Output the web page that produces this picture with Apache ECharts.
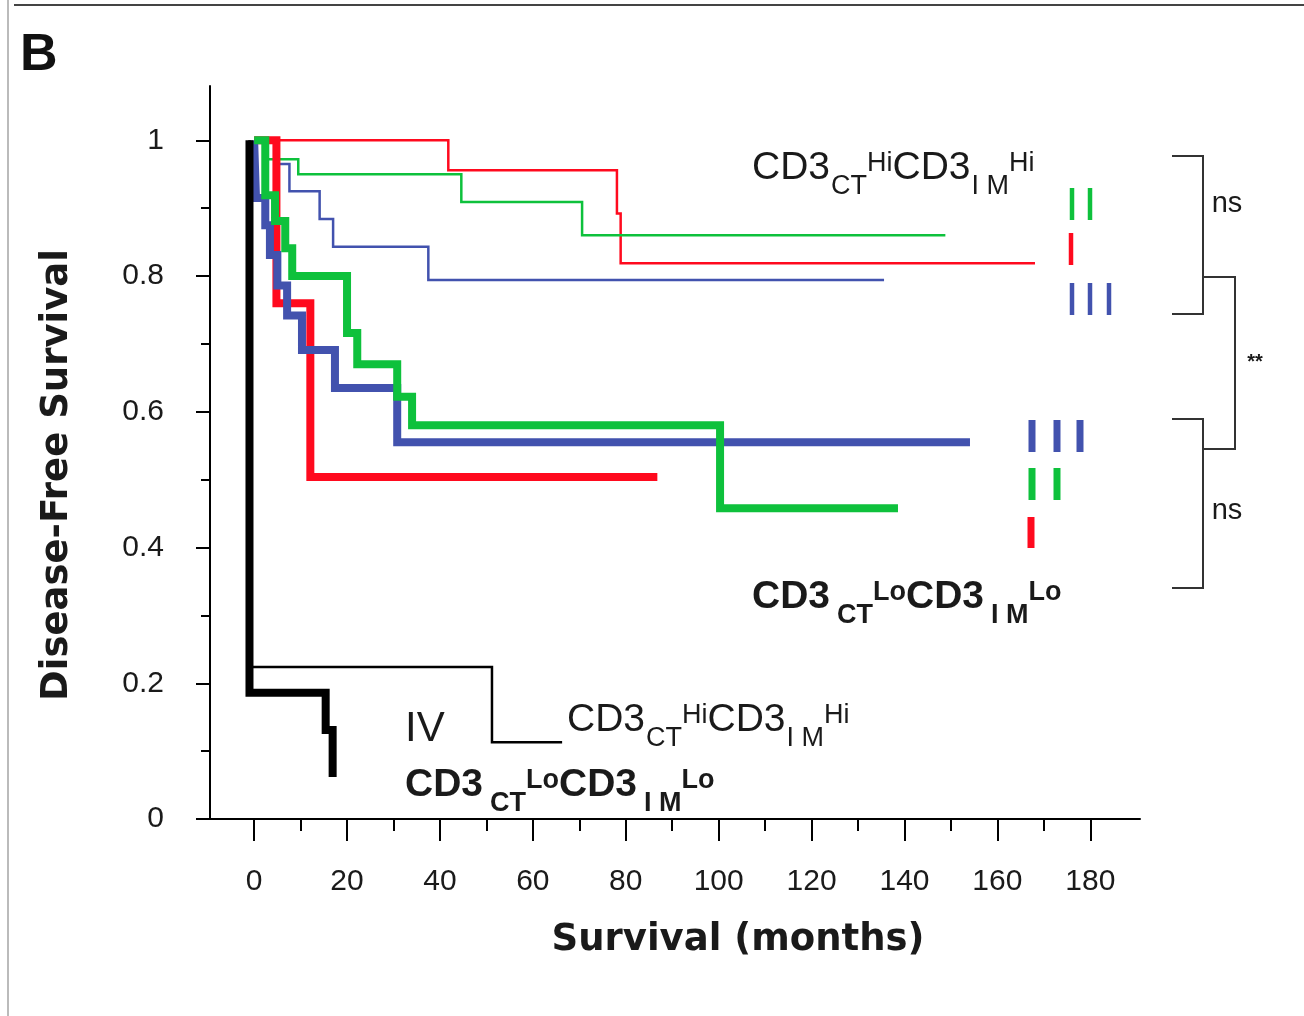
<!DOCTYPE html>
<html>
<head>
<meta charset="utf-8">
<title>Disease-Free Survival</title>
<script src="https://cdn.jsdelivr.net/npm/echarts@6/dist/echarts.min.js"></script>
<style>
  html, body { margin: 0; padding: 0; background: #fff; }
  #chart { width: 1304px; height: 1016px; }
</style>
</head>
<body>
<div id="chart"></div>
<script>
// Axes
const xMajorTicks = [0, 20, 40, 60, 80, 100, 120, 140, 160, 180];
const xMinorTicks = [10, 30, 50, 70, 90, 110, 130, 150, 170];
const yMajorTicks = [0, 0.2, 0.4, 0.6, 0.8, 1];
const yMinorTicks = [0.1, 0.3, 0.5, 0.7, 0.9];

// Stades I-III, CD3 Hi (traits fins) : temps (mois) et survie
const redHiT = [0, 41.8, 78.1, 78.9, 168.1];
const redHiS = [1, 0.956, 0.892, 0.819, 0.819];
const greenHiT = [0, 2.4, 9.5, 44.6, 70.6, 148.8];
const greenHiS = [1, 0.972, 0.95, 0.909, 0.86, 0.86];
const blueHiT = [0, 4.8, 7.6, 14.1, 17.0, 37.5, 135.6];
const blueHiS = [1, 0.965, 0.925, 0.884, 0.843, 0.794, 0.794];

// Stades I-III, CD3 Lo (traits épais)
const redLoT = [0, 4.8, 12.1, 86.8];
const redLoS = [1, 0.76, 0.504, 0.504];
const blueLoT = [0, 0.4, 2.4, 3.4, 5.0, 7.1, 10.3, 17.4, 30.8, 154.1];
const blueLoS = [1, 0.915, 0.875, 0.831, 0.786, 0.742, 0.691, 0.635, 0.555, 0.555];
const greenLoT = [0, 2.4, 4.5, 6.7, 8.2, 20.0, 22.2, 30.8, 34.0, 100.3, 138.6];
const greenLoS = [1, 0.919, 0.881, 0.841, 0.8, 0.716, 0.67, 0.622, 0.58, 0.458, 0.458];

// Stade IV
const blackHiT = [-1, -1, 51.2, 66.3];
const blackHiS = [1, 0.224, 0.113, 0.113];
const blackLoT = [-1, -1, 15.4, 16.9];
const blackLoS = [1, 0.186, 0.131, 0.062];

const FONT = "'Liberation Sans', Arial, Helvetica, sans-serif";
const TEXT = "#1a1a1a";

function kmPoints(times, surv) {
  return times.map((t, i) => [t, surv[i]]);
}

function curve(name, times, surv, color, width, z) {
  return {
    name: name,
    type: "line",
    step: "end",
    data: kmPoints(times, surv),
    symbol: "none",
    silent: true,
    animation: false,
    z: z,
    lineStyle: { color: color, width: width, join: "miter", cap: "butt" },
  };
}

// étiquette CD3 avec indices / exposants
function cd3Label(left, top, bold, sup1, sup2) {
  const w = bold ? "bold" : "normal";
  return {
    type: "text",
    left: left,
    top: top,
    z: 10,
    style: {
      text:
        "{m|CD3}{s|CT}{p|" + sup1 + "}{m|CD3}{s|I M}{p|" + sup2 + "}",
      fill: TEXT,
      rich: {
        m: { fontFamily: FONT, fontWeight: w, fontSize: 39, lineHeight: 64, fill: TEXT },
        s: {
          fontFamily: FONT, fontWeight: w, fontSize: 27, lineHeight: 28,
          verticalAlign: "bottom", fill: TEXT, padding: [0, 0, 0, bold ? 7 : 1],
        },
        p: {
          fontFamily: FONT, fontWeight: w, fontSize: 27,
          verticalAlign: "top", fill: TEXT, padding: [14, 0, 0, 0],
        },
      },
    },
  };
}

function bar(x, y1, y2, color, w) {
  return {
    type: "rect",
    z: 10,
    shape: { x: x - w / 2, y: y1, width: w, height: y2 - y1 },
    style: { fill: color },
  };
}

function path(points) {
  return {
    type: "polyline",
    z: 10,
    shape: { points: points },
    style: { stroke: "#333", lineWidth: 2, fill: null },
  };
}

function txt(x, y, text, size, weight, family) {
  return {
    type: "text",
    x: x,
    y: y,
    z: 10,
    style: {
      text: text,
      fill: TEXT,
      align: "center",
      verticalAlign: "middle",
      font: weight + " " + size + "px " + (family || FONT),
    },
  };
}

const RED = "#ff0a1e";
const GREEN = "#0ec13c";
const BLUE = "#4252ae";

const chart = echarts.init(document.getElementById("chart"));

const tickStyle = { color: "#000", width: 2 };

const option = {
  backgroundColor: "#fff",
  animation: false,
  grid: { left: 210, top: 86, width: 930, height: 733, outerBoundsMode: "none" },
  xAxis: [
    {
      type: "value",
      min: -9.5,
      max: 190.7,
      position: "bottom",
      axisLine: { show: true, onZero: false, lineStyle: { color: "#000", width: 2 } },
      axisTick: { show: true, customValues: xMajorTicks, length: 22, lineStyle: tickStyle },
      axisLabel: {
        customValues: xMajorTicks,
        fontFamily: FONT,
        fontSize: 30,
        color: TEXT,
        margin: 48,
      },
      splitLine: { show: false },
    },
    {
      type: "value",
      min: -9.5,
      max: 190.7,
      position: "bottom",
      axisLine: { show: false, onZero: false },
      axisTick: { show: true, customValues: xMinorTicks, length: 12, lineStyle: tickStyle },
      axisLabel: { show: false },
      splitLine: { show: false },
    },
  ],
  yAxis: [
    {
      type: "value",
      min: 0,
      max: 1.08,
      position: "left",
      axisLine: { show: true, onZero: false, lineStyle: { color: "#000", width: 2 } },
      axisTick: { show: true, customValues: yMajorTicks, length: 14, lineStyle: tickStyle },
      axisLabel: {
        customValues: yMajorTicks,
        fontFamily: FONT,
        fontSize: 30,
        color: TEXT,
        margin: 46,
      },
      splitLine: { show: false },
    },
    {
      type: "value",
      min: 0,
      max: 1.08,
      position: "left",
      axisLine: { show: false, onZero: false },
      axisTick: { show: true, customValues: yMinorTicks, length: 9, lineStyle: tickStyle },
      axisLabel: { show: false },
      splitLine: { show: false },
    },
  ],
  series: [
    curve("I Hi", redHiT, redHiS, RED, 2.5, 3),
    curve("II Hi", greenHiT, greenHiS, GREEN, 2.5, 3),
    curve("III Hi", blueHiT, blueHiS, BLUE, 2.5, 3),
    curve("I Lo", redLoT, redLoS, RED, 8, 4),
    curve("III Lo", blueLoT, blueLoS, BLUE, 8, 5),
    curve("II Lo", greenLoT, greenLoS, GREEN, 8, 6),
    curve("IV Hi", blackHiT, blackHiS, "#000", 2.5, 7),
    curve("IV Lo", blackLoT, blackLoS, "#000", 8, 8),
  ],
  graphic: [
    // cadre de la figure
    { type: "line", shape: { x1: 14, y1: 5, x2: 1304, y2: 5 }, style: { stroke: "#444", lineWidth: 2 } },
    { type: "line", shape: { x1: 8, y1: 0, x2: 8, y2: 1016 }, style: { stroke: "#bbb", lineWidth: 2 } },
    { type: "text", left: 20, top: 30, style: { text: "B", fill: "#111", font: "bold 52px " + FONT } },

    // titres des axes
    {
      type: "text",
      x: 57,
      y: 475,
      rotation: Math.PI / 2,
      style: {
        text: "Disease-Free Survival",
        fill: TEXT,
        align: "center",
        verticalAlign: "middle",
        font: "bold 37px 'DejaVu Sans', sans-serif",
      },
    },
    txt(738, 940, "Survival (months)", 37, "bold", "'DejaVu Sans', sans-serif"),

    // étiquettes des groupes
    cd3Label(752, 149, false, "Hi", "Hi"),
    cd3Label(752, 578, true, "Lo", "Lo"),
    cd3Label(567, 701, false, "Hi", "Hi"),
    cd3Label(405, 766, true, "Lo", "Lo"),
    { type: "text", left: 405, top: 708, style: { text: "IV", fill: TEXT, font: "normal 42px " + FONT } },

    // chiffres romains (stades) en barres colorées
    bar(1072, 188, 220, GREEN, 4.5),
    bar(1090, 188, 220, GREEN, 4.5),
    bar(1071, 233, 265, RED, 4.5),
    bar(1072, 283, 315, BLUE, 4.5),
    bar(1090, 283, 315, BLUE, 4.5),
    bar(1109, 283, 315, BLUE, 4.5),
    bar(1032, 420, 452, BLUE, 7),
    bar(1057, 420, 452, BLUE, 7),
    bar(1080, 420, 452, BLUE, 7),
    bar(1032, 468, 500, GREEN, 7),
    bar(1057, 468, 500, GREEN, 7),
    bar(1031, 517, 548, RED, 7),

    // crochets de comparaison
    path([[1172, 156], [1203, 156], [1203, 314], [1172, 314]]),
    path([[1203, 277], [1235, 277], [1235, 449], [1203, 449]]),
    path([[1172, 419], [1203, 419], [1203, 588], [1172, 588]]),
    txt(1227, 204, "ns", 29, "normal"),
    txt(1227, 511, "ns", 29, "normal"),
    txt(1255, 362, "**", 20, "bold"),
  ],
};

chart.setOption(option);
</script>
</body>
</html>
